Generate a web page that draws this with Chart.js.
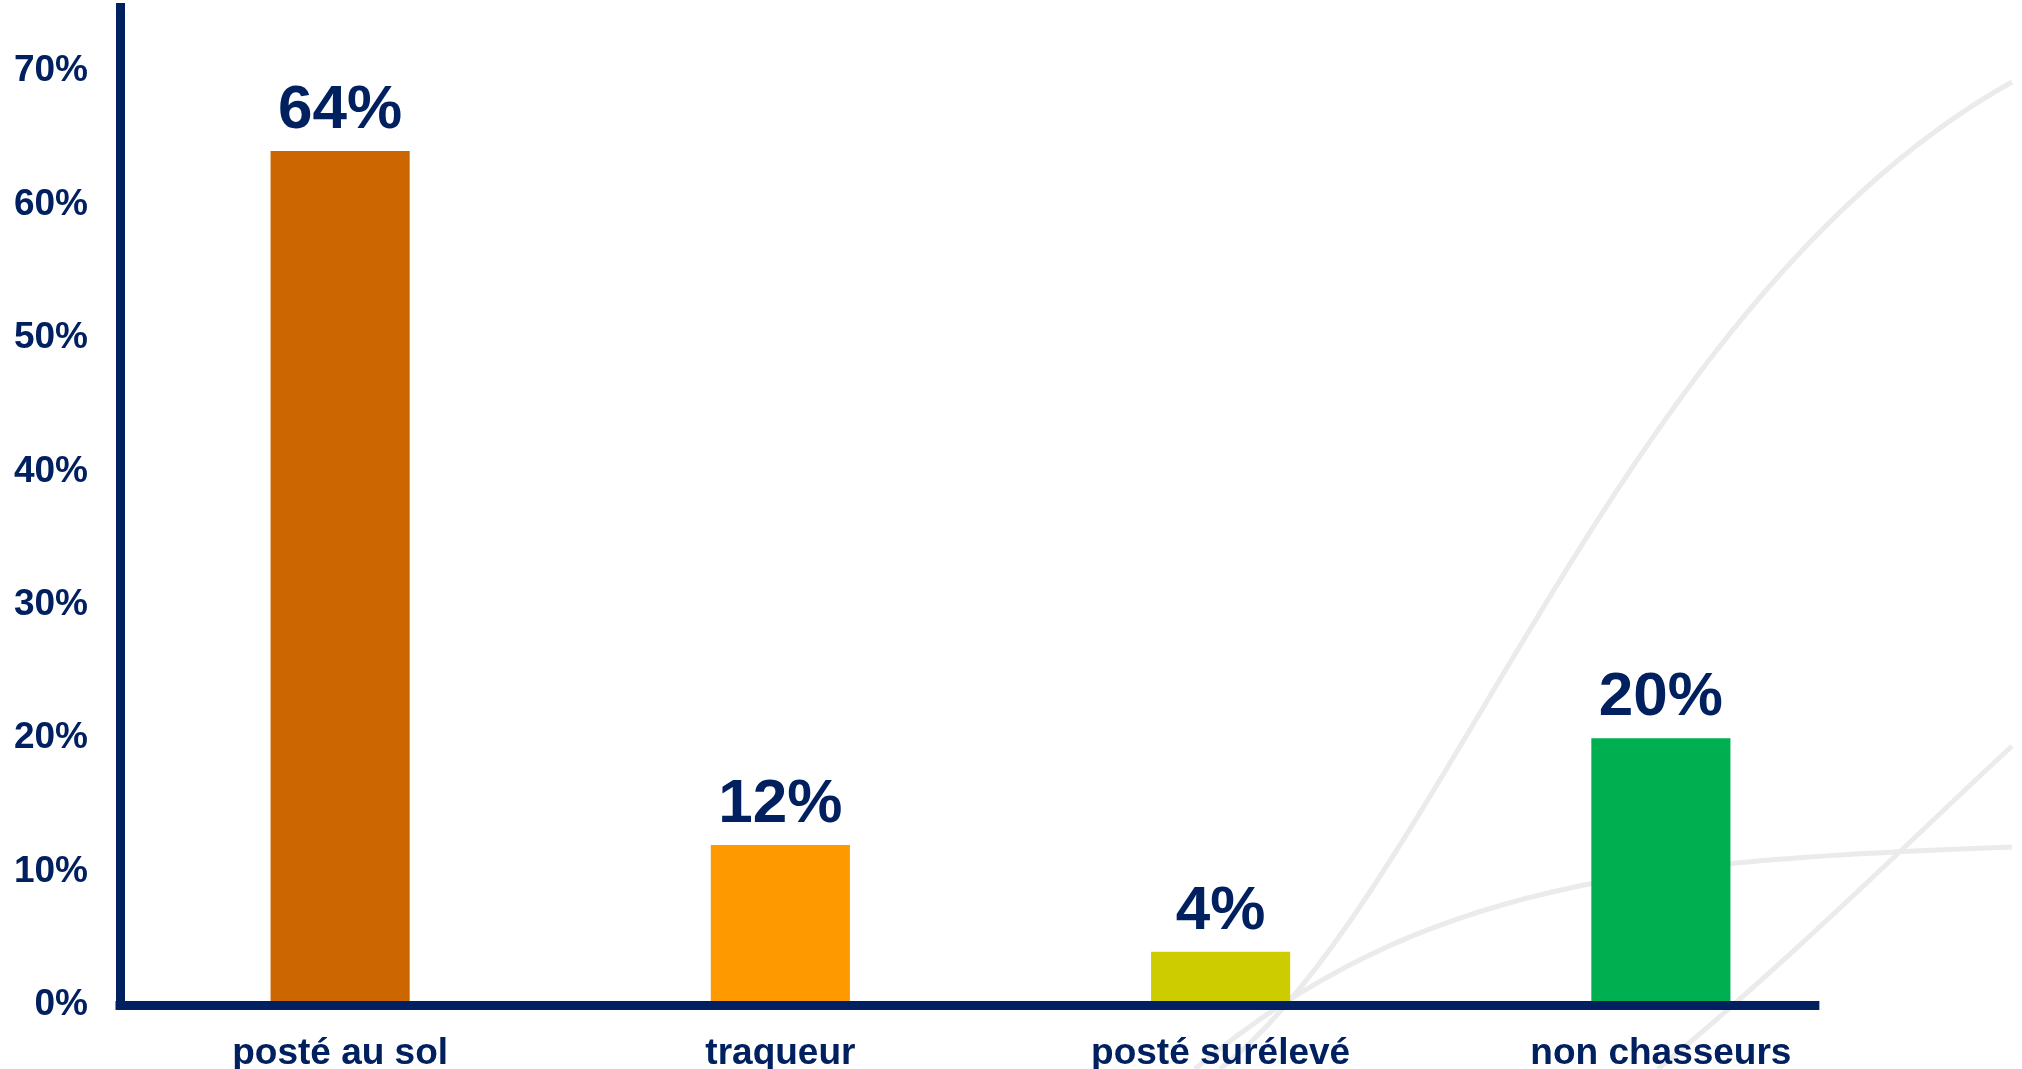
<!DOCTYPE html>
<html>
<head>
<meta charset="utf-8">
<script src="https://cdn.jsdelivr.net/npm/chart.js@4/dist/chart.umd.min.js"></script>
<style>
  html, body { margin: 0; padding: 0; background: #fff; }
  #wrap { width: 2022px; height: 1069px; }
</style>
</head>
<body>
<div id="wrap"><canvas id="chasseChart"></canvas></div>
<script>
// data
const categories = ['posté au sol', 'traqueur', 'posté surélevé', 'non chasseurs'];
const shares = [64, 12, 4, 20];
const barColors = ['#CC6600', '#FF9900', '#CCCC00', '#00B050'];
const yTicks = [0, 10, 20, 30, 40, 50, 60, 70];

const navy = '#002060';
const font = '"Liberation Sans", Arial, sans-serif';

// light decorative swooshes in the background (cubic curves: start, c1, c2, end)
const swooshes = [
    [[1220, 1069], [1440, 900], [1620, 300], [2012, 82]],
    [[1195, 1069], [1420, 880], [1650, 860], [2012, 847]],
    [[1658, 1069], [1790, 960], [1900, 850], [2012, 746]]
];

const backdrop = {
    id: 'backdrop',
    beforeDraw(chart) {
        const c = chart.ctx;
        c.save();
        c.strokeStyle = '#ebebeb';
        c.lineWidth = 5;
        swooshes.forEach(p => {
            c.beginPath();
            c.moveTo(p[0][0], p[0][1]);
            c.bezierCurveTo(p[1][0], p[1][1], p[2][0], p[2][1], p[3][0], p[3][1]);
            c.stroke();
        });
        c.restore();
    }
};

// x axis line (shorter than the plot area) and value labels
const overlay = {
    id: 'overlay',
    afterDatasetsDraw(chart) {
        const c = chart.ctx;
        const x = chart.scales.x;
        const y = chart.scales.y;
        const step = x.getPixelForValue(1) - x.getPixelForValue(0);
        c.save();
        c.strokeStyle = navy;
        c.lineWidth = 9;
        c.beginPath();
        c.moveTo(chart.chartArea.left - 4.5, y.getPixelForValue(0) + 0.5);
        c.lineTo(x.getPixelForValue(3) + step * 0.36, y.getPixelForValue(0) + 0.5);
        c.stroke();

        c.fillStyle = navy;
        c.font = 'bold 62px ' + font;
        c.textAlign = 'center';
        c.textBaseline = 'alphabetic';
        chart.getDatasetMeta(0).data.forEach((bar, i) => {
            c.fillText(shares[i] + '%', bar.x, bar.y - 23);
        });
        c.restore();
    }
};

new Chart(document.getElementById('chasseChart'), {
    type: 'bar',
    data: {
        labels: categories,
        datasets: [{
            data: shares,
            backgroundColor: barColors,
            borderWidth: 0,
            barPercentage: 0.316,
            categoryPercentage: 1
        }]
    },
    options: {
        responsive: true,
        maintainAspectRatio: false,
        animation: false,
        layout: { padding: { top: 7, right: 141, left: 0, bottom: 0 } },
        plugins: {
            legend: { display: false },
            tooltip: { enabled: false }
        },
        scales: {
            x: {
                grid: { display: false, drawTicks: false },
                border: { display: false },
                afterFit: s => {
                    s.height = 64;
                    s.paddingLeft = 0;
                    s.paddingRight = 0;
                },
                ticks: {
                    color: navy,
                    padding: 27,
                    font: { family: font, size: 37, weight: 'bold' }
                }
            },
            y: {
                min: 0,
                max: 74.8,
                grid: { display: false, drawTicks: false },
                border: { display: true, color: navy, width: 9 },
                afterFit: s => {
                    s.width = 120;
                    s.paddingTop = 0;
                    s.paddingBottom = 0;
                },
                afterBuildTicks: s => {
                    s.ticks = yTicks.map(v => ({ value: v }));
                },
                ticks: {
                    color: navy,
                    padding: 32,
                    font: { family: font, size: 37, weight: 'bold' },
                    callback: v => v + '%'
                }
            }
        }
    },
    plugins: [backdrop, overlay]
});
</script>
</body>
</html>
